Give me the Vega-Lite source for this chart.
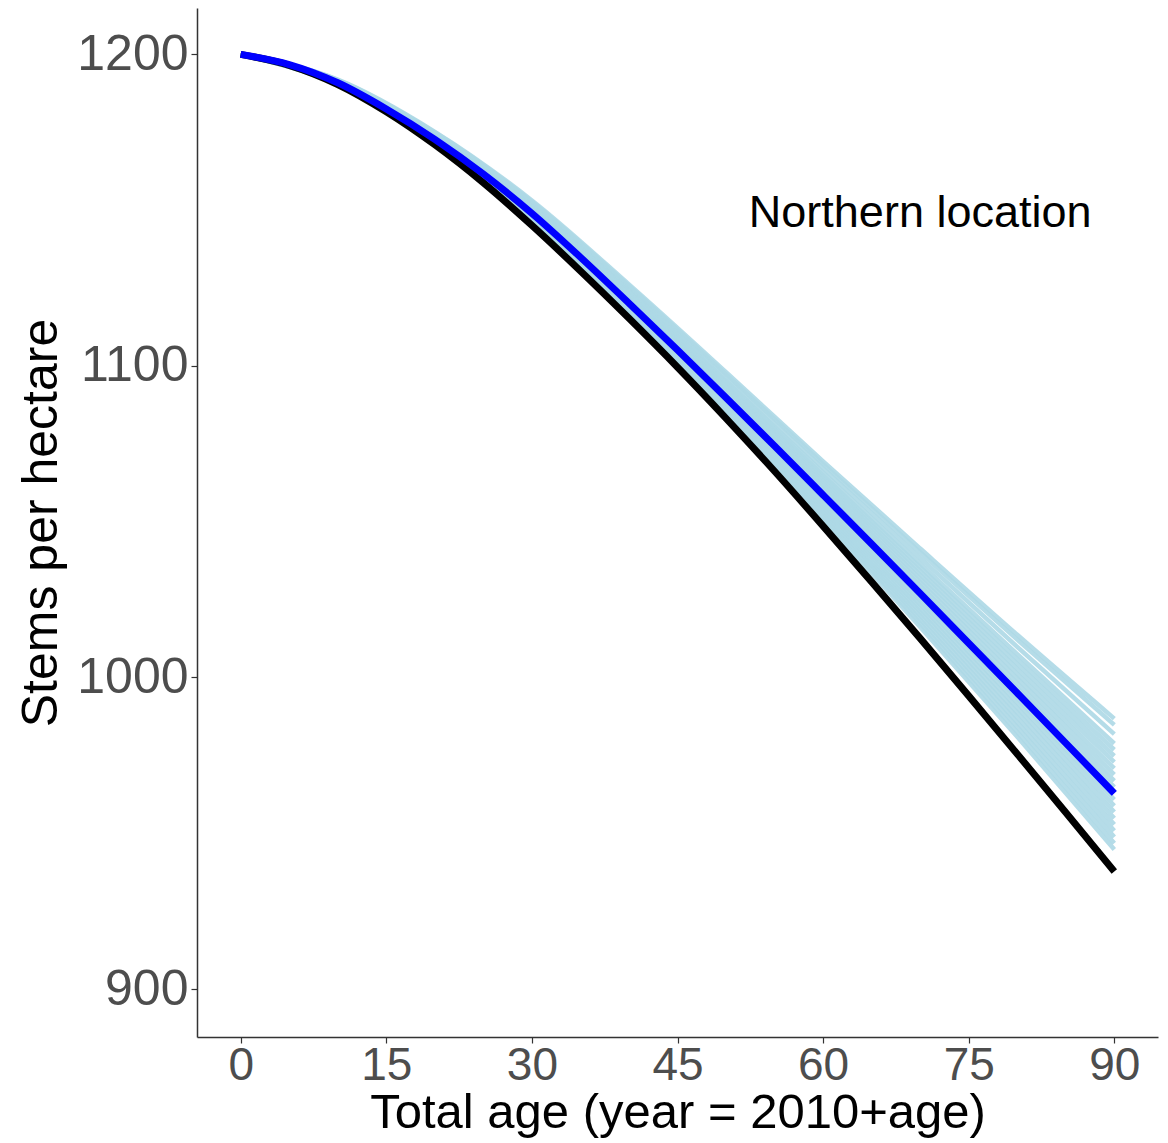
{
  "$schema": "https://vega.github.io/schema/vega-lite/v6.json",
  "width": 961,
  "height": 1029,
  "autosize": {"type": "none"},
  "padding": {"left": 197, "top": 8, "right": 10, "bottom": 106},
  "background": "white",
  "config": {"view": {"stroke": null}, "font": "Liberation Sans"},
  "datasets": {
    "ens": [
      {"run":1,"age":0,"n":1200},{"run":1,"age":10,"n":1190.2},{"run":1,"age":20,"n":1170.95},{"run":1,"age":30,"n":1145.9},{"run":1,"age":40,"n":1115.65},{"run":1,"age":50,"n":1083.7},{"run":1,"age":60,"n":1050.5},{"run":1,"age":70,"n":1016.2},{"run":1,"age":80,"n":981.0},{"run":1,"age":90,"n":944.8},
      {"run":2,"age":0,"n":1200},{"run":2,"age":10,"n":1190.3},{"run":2,"age":20,"n":1171.15},{"run":2,"age":30,"n":1146.3},{"run":2,"age":40,"n":1116.15},{"run":2,"age":50,"n":1084.4},{"run":2,"age":60,"n":1051.4},{"run":2,"age":70,"n":1017.4},{"run":2,"age":80,"n":982.5},{"run":2,"age":90,"n":946.8},
      {"run":3,"age":0,"n":1200},{"run":3,"age":10,"n":1190.3},{"run":3,"age":20,"n":1171.35},{"run":3,"age":30,"n":1146.6},{"run":3,"age":40,"n":1116.65},{"run":3,"age":50,"n":1085.0},{"run":3,"age":60,"n":1052.3},{"run":3,"age":70,"n":1018.6},{"run":3,"age":80,"n":984.1},{"run":3,"age":90,"n":948.8},
      {"run":4,"age":0,"n":1200},{"run":4,"age":10,"n":1190.4},{"run":4,"age":20,"n":1171.55},{"run":4,"age":30,"n":1147.0},{"run":4,"age":40,"n":1117.15},{"run":4,"age":50,"n":1085.7},{"run":4,"age":60,"n":1053.2},{"run":4,"age":70,"n":1019.8},{"run":4,"age":80,"n":985.6},{"run":4,"age":90,"n":950.8},
      {"run":5,"age":0,"n":1200},{"run":5,"age":10,"n":1190.5},{"run":5,"age":20,"n":1171.75},{"run":5,"age":30,"n":1147.3},{"run":5,"age":40,"n":1117.65},{"run":5,"age":50,"n":1086.4},{"run":5,"age":60,"n":1054.1},{"run":5,"age":70,"n":1021.0},{"run":5,"age":80,"n":987.2},{"run":5,"age":90,"n":952.8},
      {"run":6,"age":0,"n":1200},{"run":6,"age":10,"n":1190.6},{"run":6,"age":20,"n":1171.95},{"run":6,"age":30,"n":1147.6},{"run":6,"age":40,"n":1118.15},{"run":6,"age":50,"n":1087.1},{"run":6,"age":60,"n":1055.0},{"run":6,"age":70,"n":1022.2},{"run":6,"age":80,"n":988.8},{"run":6,"age":90,"n":954.8},
      {"run":7,"age":0,"n":1200},{"run":7,"age":10,"n":1190.7},{"run":7,"age":20,"n":1172.15},{"run":7,"age":30,"n":1148.0},{"run":7,"age":40,"n":1118.65},{"run":7,"age":50,"n":1087.8},{"run":7,"age":60,"n":1055.9},{"run":7,"age":70,"n":1023.4},{"run":7,"age":80,"n":990.3},{"run":7,"age":90,"n":956.8},
      {"run":8,"age":0,"n":1200},{"run":8,"age":10,"n":1190.7},{"run":8,"age":20,"n":1172.35},{"run":8,"age":30,"n":1148.3},{"run":8,"age":40,"n":1119.15},{"run":8,"age":50,"n":1088.4},{"run":8,"age":60,"n":1056.8},{"run":8,"age":70,"n":1024.6},{"run":8,"age":80,"n":991.9},{"run":8,"age":90,"n":958.8},
      {"run":9,"age":0,"n":1200},{"run":9,"age":10,"n":1190.8},{"run":9,"age":20,"n":1172.55},{"run":9,"age":30,"n":1148.7},{"run":9,"age":40,"n":1119.65},{"run":9,"age":50,"n":1089.1},{"run":9,"age":60,"n":1057.7},{"run":9,"age":70,"n":1025.8},{"run":9,"age":80,"n":993.4},{"run":9,"age":90,"n":960.8},
      {"run":10,"age":0,"n":1200},{"run":10,"age":10,"n":1191.0},{"run":10,"age":20,"n":1172.95},{"run":10,"age":30,"n":1149.3},{"run":10,"age":40,"n":1120.65},{"run":10,"age":50,"n":1090.5},{"run":10,"age":60,"n":1059.5},{"run":10,"age":70,"n":1028.2},{"run":10,"age":80,"n":996.6},{"run":10,"age":90,"n":964.8},
      {"run":11,"age":0,"n":1200},{"run":11,"age":10,"n":1191.1},{"run":11,"age":20,"n":1173.15},{"run":11,"age":30,"n":1149.7},{"run":11,"age":40,"n":1121.15},{"run":11,"age":50,"n":1091.2},{"run":11,"age":60,"n":1060.4},{"run":11,"age":70,"n":1029.4},{"run":11,"age":80,"n":998.1},{"run":11,"age":90,"n":966.8},
      {"run":12,"age":0,"n":1200},{"run":12,"age":10,"n":1191.1},{"run":12,"age":20,"n":1173.35},{"run":12,"age":30,"n":1150.0},{"run":12,"age":40,"n":1121.65},{"run":12,"age":50,"n":1091.8},{"run":12,"age":60,"n":1061.3},{"run":12,"age":70,"n":1030.6},{"run":12,"age":80,"n":999.7},{"run":12,"age":90,"n":968.8},
      {"run":13,"age":0,"n":1200},{"run":13,"age":10,"n":1191.2},{"run":13,"age":20,"n":1173.55},{"run":13,"age":30,"n":1150.4},{"run":13,"age":40,"n":1122.15},{"run":13,"age":50,"n":1092.5},{"run":13,"age":60,"n":1062.2},{"run":13,"age":70,"n":1031.8},{"run":13,"age":80,"n":1001.2},{"run":13,"age":90,"n":970.8},
      {"run":14,"age":0,"n":1200},{"run":14,"age":10,"n":1191.3},{"run":14,"age":20,"n":1173.75},{"run":14,"age":30,"n":1150.7},{"run":14,"age":40,"n":1122.65},{"run":14,"age":50,"n":1093.2},{"run":14,"age":60,"n":1063.1},{"run":14,"age":70,"n":1033.0},{"run":14,"age":80,"n":1002.8},{"run":14,"age":90,"n":972.8},
      {"run":15,"age":0,"n":1200},{"run":15,"age":10,"n":1191.4},{"run":15,"age":20,"n":1173.95},{"run":15,"age":30,"n":1151.0},{"run":15,"age":40,"n":1123.15},{"run":15,"age":50,"n":1093.9},{"run":15,"age":60,"n":1064.0},{"run":15,"age":70,"n":1034.2},{"run":15,"age":80,"n":1004.4},{"run":15,"age":90,"n":974.8},
      {"run":16,"age":0,"n":1200},{"run":16,"age":10,"n":1191.5},{"run":16,"age":20,"n":1174.15},{"run":16,"age":30,"n":1151.4},{"run":16,"age":40,"n":1123.65},{"run":16,"age":50,"n":1094.6},{"run":16,"age":60,"n":1064.9},{"run":16,"age":70,"n":1035.4},{"run":16,"age":80,"n":1005.9},{"run":16,"age":90,"n":976.8},
      {"run":17,"age":0,"n":1200},{"run":17,"age":10,"n":1191.5},{"run":17,"age":20,"n":1174.35},{"run":17,"age":30,"n":1151.7},{"run":17,"age":40,"n":1124.15},{"run":17,"age":50,"n":1095.2},{"run":17,"age":60,"n":1065.8},{"run":17,"age":70,"n":1036.6},{"run":17,"age":80,"n":1007.5},{"run":17,"age":90,"n":978.8},
      {"run":18,"age":0,"n":1200},{"run":18,"age":10,"n":1191.7},{"run":18,"age":20,"n":1174.65},{"run":18,"age":30,"n":1152.2},{"run":18,"age":40,"n":1124.95},{"run":18,"age":50,"n":1096.3},{"run":18,"age":60,"n":1067.2},{"run":18,"age":70,"n":1038.4},{"run":18,"age":80,"n":1009.8},{"run":18,"age":90,"n":981.8},
      {"run":19,"age":0,"n":1200},{"run":19,"age":10,"n":1191.8},{"run":19,"age":20,"n":1174.95},{"run":19,"age":30,"n":1152.7},{"run":19,"age":40,"n":1125.65},{"run":19,"age":50,"n":1097.3},{"run":19,"age":60,"n":1068.5},{"run":19,"age":70,"n":1040.2},{"run":19,"age":80,"n":1012.2},{"run":19,"age":90,"n":984.8},
      {"run":20,"age":0,"n":1200},{"run":20,"age":10,"n":1191.9},{"run":20,"age":20,"n":1175.15},{"run":20,"age":30,"n":1153.1},{"run":20,"age":40,"n":1126.15},{"run":20,"age":50,"n":1098.0},{"run":20,"age":60,"n":1069.4},{"run":20,"age":70,"n":1041.4},{"run":20,"age":80,"n":1013.7},{"run":20,"age":90,"n":986.8}
    ],
    "black": [
      {"age":0,"n":1200},{"age":5,"n":1196.5},{"age":10,"n":1190.35},{"age":15,"n":1181.6},{"age":20,"n":1171.0},{"age":25,"n":1158.8},{"age":30,"n":1145.1},{"age":35,"n":1130.5},{"age":40,"n":1115.3},{"age":45,"n":1099.6},{"age":50,"n":1083.2},{"age":55,"n":1066.2},{"age":60,"n":1048.6},{"age":65,"n":1030.7},{"age":70,"n":1012.55},{"age":75,"n":994.1},{"age":80,"n":975.45},{"age":85,"n":956.65},{"age":90,"n":937.7}
    ],
    "blue": [
      {"age":0,"n":1200},{"age":5,"n":1196.75},{"age":10,"n":1190.9},{"age":15,"n":1182.5},{"age":20,"n":1172.75},{"age":25,"n":1161.6},{"age":30,"n":1149.0},{"age":35,"n":1134.9},{"age":40,"n":1120.15},{"age":45,"n":1105.1},{"age":50,"n":1089.8},{"age":55,"n":1074.3},{"age":60,"n":1058.6},{"age":65,"n":1042.85},{"age":70,"n":1027.0},{"age":75,"n":1011.0},{"age":80,"n":995.0},{"age":85,"n":978.95},{"age":90,"n":962.8}
    ],
    "label": [
      {"age":70,"n":1149,"text":"Northern location"}
    ]
  },
  "encoding": {
    "x": {
      "field": "age", "type": "quantitative",
      "scale": {"domain": [-4.5, 94.5], "nice": false, "zero": false},
      "axis": {
        "values": [0, 15, 30, 45, 60, 75, 90],
        "title": "Total age (year = 2010+age)",
        "grid": false,
        "labelFontSize": 46, "labelColor": "#4D4D4D", "labelPadding": 0,
        "tickColor": "#333333", "tickSize": 6, "tickWidth": 1.2,
        "domainColor": "#333333", "domainWidth": 1.5,
        "titleFontSize": 49, "titleFontWeight": "normal", "titleColor": "#000000", "titlePadding": 0
      }
    },
    "y": {
      "field": "n", "type": "quantitative",
      "scale": {"domain": [884.6, 1214.9], "nice": false, "zero": false},
      "axis": {
        "values": [900, 1000, 1100, 1200],
        "format": "d",
        "title": "Stems per hectare",
        "grid": false,
        "labelFontSize": 50, "labelColor": "#4D4D4D", "labelPadding": 3,
        "tickColor": "#333333", "tickSize": 6, "tickWidth": 1.2,
        "domainColor": "#333333", "domainWidth": 1.5,
        "titleFontSize": 50, "titleFontWeight": "normal", "titleColor": "#000000", "titlePadding": 10
      }
    }
  },
  "layer": [
    {
      "data": {"name": "ens"},
      "mark": {"type": "line", "color": "#ADD8E6", "strokeWidth": 4.5, "opacity": 0.9, "interpolate": "monotone"},
      "encoding": {"detail": {"field": "run", "type": "nominal"}}
    },
    {
      "data": {"name": "black"},
      "mark": {"type": "line", "color": "#000000", "strokeWidth": 7, "interpolate": "monotone"},
      "encoding": {}
    },
    {
      "data": {"name": "blue"},
      "mark": {"type": "line", "color": "#0000FF", "strokeWidth": 7, "interpolate": "monotone"},
      "encoding": {}
    },
    {
      "data": {"name": "label"},
      "mark": {"type": "text", "fontSize": 45, "color": "#000000", "align": "center", "baseline": "middle"},
      "encoding": {"text": {"field": "text", "type": "nominal"}}
    }
  ]
}
